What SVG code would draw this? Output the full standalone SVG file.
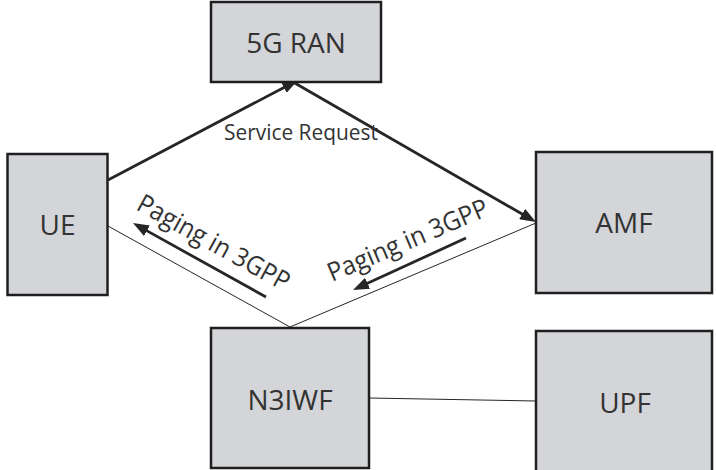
<svg xmlns="http://www.w3.org/2000/svg" width="716" height="470" viewBox="0 0 716 470">
<style>
.box{fill:#d4d5d8;stroke:#1f1f1f;stroke-width:2.5}
.lbl{font-family:"Open Sans","Liberation Sans",sans-serif;font-size:28px;fill:#333;text-anchor:middle}
.txt{font-family:"Open Sans","Liberation Sans",sans-serif;fill:#333}
.thick{stroke:#262626;stroke-width:2.8;fill:none}
.thin{stroke:#262626;stroke-width:1;fill:none}
</style>
<defs>
<marker id="ah" viewBox="0 0 16 12" refX="6" refY="6" markerWidth="16" markerHeight="12" markerUnits="userSpaceOnUse" orient="auto">
<path d="M0,0 L16,6 L0,12 z" fill="#262626"/>
</marker>
</defs>
<rect width="716" height="470" fill="#fff"/>
<g id="connectors">
<line class="thick" x1="108" y1="180" x2="289.2" y2="84.7" marker-end="url(#ah)"/>
<line class="thick" x1="293" y1="82" x2="527.3" y2="217" marker-end="url(#ah)"/>
<line class="thin" x1="108" y1="226" x2="290" y2="327"/>
<line class="thin" x1="290" y1="327" x2="536" y2="223"/>
<line class="thin" x1="369" y1="398" x2="536" y2="401"/>
<line class="thick" x1="266" y1="297" x2="141.7" y2="227.9" marker-end="url(#ah)"/>
<line class="thick" x1="466" y1="238" x2="362.1" y2="285.8" marker-end="url(#ah)"/>
<text class="txt" x="224" y="140" font-size="21" textLength="154" lengthAdjust="spacingAndGlyphs">Service Request</text>
<text class="txt" font-size="26" textLength="170" lengthAdjust="spacingAndGlyphs" transform="translate(135,209) rotate(29)">Paging in 3GPP</text>
<text class="txt" font-size="26" textLength="172" lengthAdjust="spacingAndGlyphs" transform="translate(332,282) rotate(-23)">Paging in 3GPP</text>
</g>
<g id="ran">
<rect class="box" x="211" y="2" width="170" height="80"/>
<text class="lbl" x="296" y="53">5G RAN</text>
</g>
<g id="ue">
<rect class="box" x="7.5" y="154" width="100" height="141"/>
<text class="lbl" x="57.5" y="235">UE</text>
</g>
<g id="amf">
<rect class="box" x="536" y="152" width="176" height="141"/>
<text class="lbl" x="624" y="233">AMF</text>
</g>
<g id="n3iwf">
<rect class="box" x="211" y="328" width="158" height="140"/>
<text class="lbl" x="290" y="410">N3IWF</text>
</g>
<g id="upf">
<rect class="box" x="536" y="331" width="176" height="150"/>
<text class="lbl" x="625" y="413">UPF</text>
</g>
</svg>
